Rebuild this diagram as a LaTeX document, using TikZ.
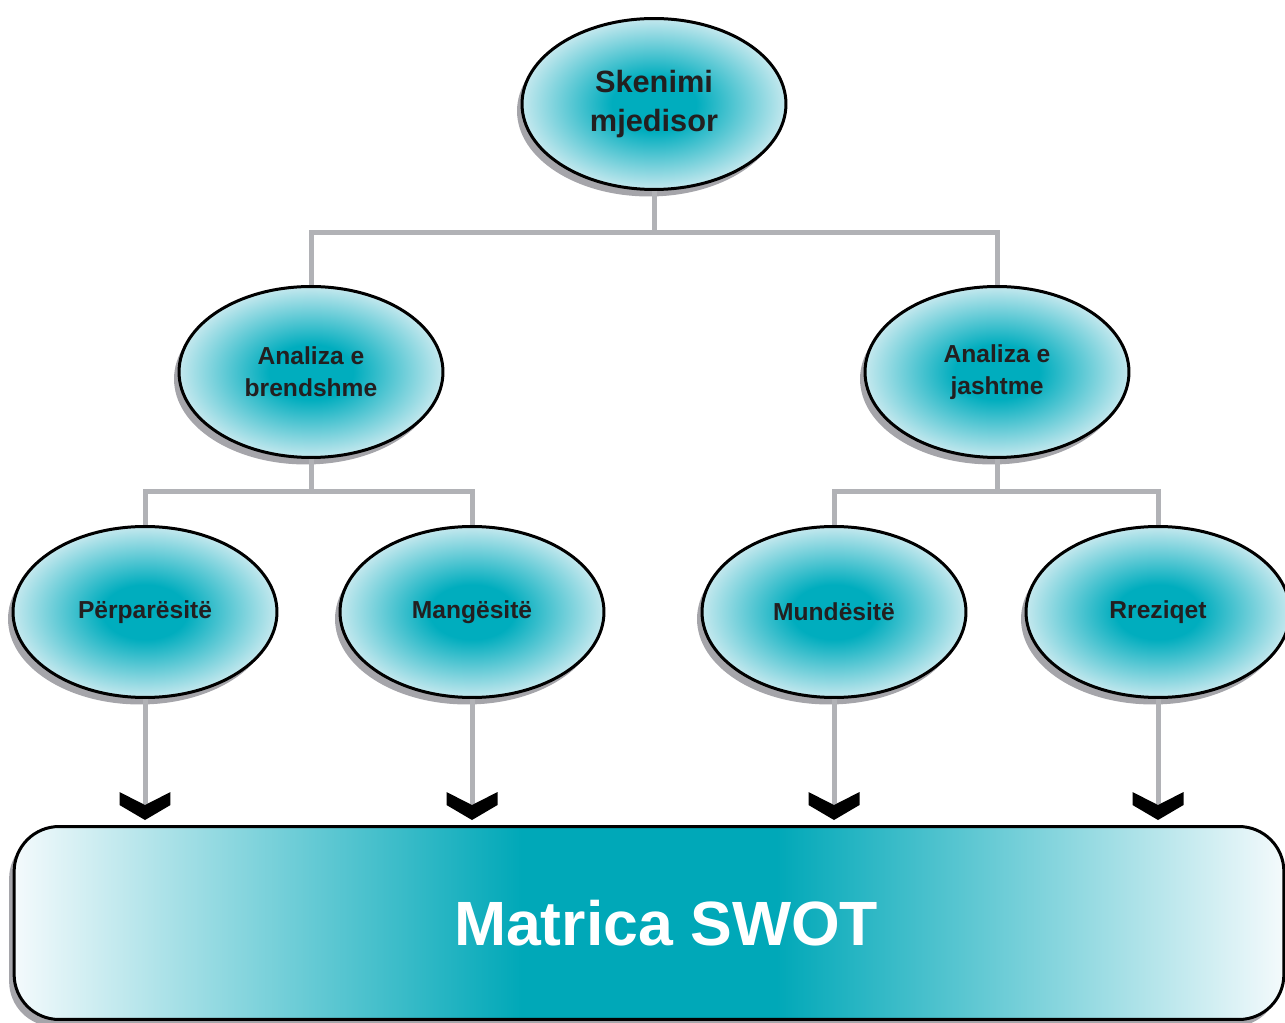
\documentclass[tikz,border=0pt]{standalone}
\usepackage{fontspec}
\setmainfont{Liberation Sans}
\usetikzlibrary{arrows.meta,shapes.geometric,shadows}
\definecolor{BubbleCore}{RGB}{0,173,190}
\definecolor{BubbleRim}{RGB}{196,232,238}
\definecolor{MatrixCore}{RGB}{0,168,184}
\definecolor{MatrixRim}{RGB}{244,250,252}
\definecolor{LinkGray}{RGB}{177,178,182}
\definecolor{ShadowGray}{RGB}{165,165,170}
\definecolor{InkDark}{RGB}{35,31,32}
\pgfdeclareradialshading{bubbleshade}{\pgfpoint{0bp}{0bp}}{color(0bp)=(BubbleCore); color(8bp)=(BubbleCore); color(25bp)=(BubbleRim); color(50bp)=(BubbleRim)}
\pgfdeclarehorizontalshading{matrixshade}{100bp}{color(0bp)=(MatrixRim); color(25bp)=(MatrixRim); color(45bp)=(MatrixCore); color(55bp)=(MatrixCore); color(75bp)=(MatrixRim); color(100bp)=(MatrixRim)}
% thick v-shaped tip
\pgfdeclarearrow{
  name=Chevron,
  setup code={
    \pgfarrowssettipend{0pt}
    \pgfarrowssetlineend{-0.31cm}
    \pgfarrowssetbackend{-0.56cm}
    \pgfarrowsupperhullpoint{-0.56cm}{0.51cm}
    \pgfarrowsupperhullpoint{0pt}{0pt}
  },
  drawing code={
    \pgfpathmoveto{\pgfpoint{0pt}{0pt}}
    \pgfpathlineto{\pgfpoint{-0.3cm}{0.51cm}}
    \pgfpathlineto{\pgfpoint{-0.56cm}{0.51cm}}
    \pgfpathlineto{\pgfpoint{-0.3cm}{0pt}}
    \pgfpathlineto{\pgfpoint{-0.56cm}{-0.51cm}}
    \pgfpathlineto{\pgfpoint{-0.3cm}{-0.51cm}}
    \pgfpathclose
    \pgfusepathqfill
  }
}
\tikzset{
  bubble/.style={ellipse,draw=black,line width=0.06cm,shading=bubbleshade,
    minimum width=5.28cm,minimum height=3.42cm,inner sep=0pt,align=center,
    text=InkDark,font=\bfseries\fontsize{14}{18}\selectfont,
    drop shadow={shadow xshift=-0.1cm,shadow yshift=-0.14cm,fill=ShadowGray,opacity=1}},
  topbubble/.style={bubble,font=\bfseries\fontsize{17.5}{22}\selectfont},
  matrixbox/.style={rectangle,draw=black,line width=0.06cm,shading=matrixshade,
    rounded corners=0.9cm,minimum width=25.4cm,minimum height=3.86cm,
    text=white,font=\bfseries\fontsize{35.6}{40}\selectfont,
    drop shadow={shadow xshift=-0.1cm,shadow yshift=-0.14cm,fill=ShadowGray,opacity=1}},
  link/.style={line width=0.1cm,draw=LinkGray},
  feed/.style={line width=0.1cm,draw=LinkGray,shorten >=0.1cm,
    -{Chevron[color=black]}}
}
\begin{document}
\begin{tikzpicture}[x=0.02cm,y=-0.02cm]
  \useasboundingbox (0,0) rectangle (1285,1023);
  % tree of analyses
  \node[topbubble] (skenimi) at (654,104) {Skenimi\\mjedisor};
  \node[bubble] (brend) at (311,372) {Analiza e\\brendshme};
  \node[bubble] (jasht) at (997,372) {Analiza e\\jashtme};
  \node[bubble] (perp) at (145,612) {Përparësitë};
  \node[bubble] (mang) at (472,612) {Mangësitë};
  \node[bubble] (mund) at (834,612) {Mundësitë};
  \node[bubble] (rrez) at (1158,612) {Rreziqet};
  \node[matrixbox] (matrica) at (649,923) {\hspace*{0.68cm}Matrica SWOT};
  \draw[link] (skenimi.south) -- ++(0,42) -| (brend.north);
  \draw[link] (skenimi.south) -- ++(0,42) -| (jasht.north);
  \draw[link] (brend.south) -- ++(0,33) -| (perp.north);
  \draw[link] (brend.south) -- ++(0,33) -| (mang.north);
  \draw[link] (jasht.south) -- ++(0,33) -| (mund.north);
  \draw[link] (jasht.south) -- ++(0,33) -| (rrez.north);
  % into the matrix
  \foreach \s in {perp,mang,mund,rrez}
    \draw[feed] (\s.south) -- (\s.south |- matrica.north);
\end{tikzpicture}
\end{document}
